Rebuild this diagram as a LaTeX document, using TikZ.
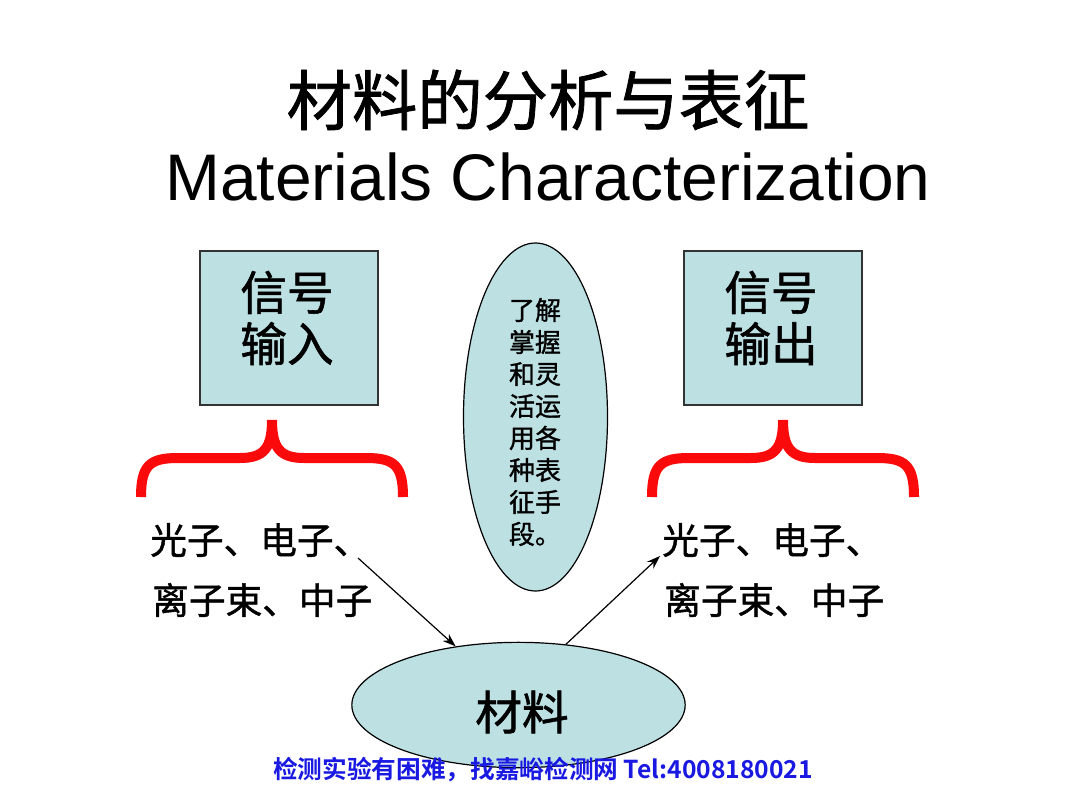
\documentclass[tikz,border=0pt]{standalone}
\usepackage{fontspec}
\setmainfont{Liberation Sans}
\newfontfamily\cjk{Noto Sans CJK SC}
\newfontfamily\cjkf[FakeBold=1.2]{Noto Sans CJK SC}
\newfontfamily\cjkb{Noto Sans CJK SC Bold}
\newfontfamily\latin{Liberation Sans}
\usetikzlibrary{shapes.geometric,arrows.meta}
\definecolor{boxfill}{RGB}{189,224,227}
\definecolor{bracered}{RGB}{250,10,10}
\definecolor{footblue}{RGB}{25,25,225}
\tikzset{
  sigbox/.style={draw=black!80, line width=1.1pt, fill=boxfill, minimum width=133.5pt, minimum height=115.5pt, inner sep=0pt},
  boxtext/.style={inner sep=0pt, align=center, font=\cjkf\fontsize{35}{38.5}\selectfont},
  oval/.style={ellipse, draw=black, line width=0.9pt, fill=boxfill, inner sep=0pt},
  bracepath/.style={draw=bracered, line width=7.5pt, line cap=butt},
  sidetext/.style={anchor=west, inner sep=0pt, font=\cjkf\fontsize{27.5}{30}\selectfont},
  arr/.style={draw=black, line width=0.9pt, -{Stealth[length=10pt,width=7pt]}}
}
\begin{document}
\begin{tikzpicture}[x=0.75pt,y=-0.75pt]
\useasboundingbox (0,0) rectangle (1080,810);
\fill[white] (0,0) rectangle (1080,810);
% titles
\node[font=\cjkf\fontsize{49}{52}\selectfont, inner sep=0pt] (title) at (548,100) {材料的分析与表征};
\node[font=\latin\fontsize{49.4}{52}\selectfont, inner sep=0pt] (subtitle) at (548,177) {Materials Characterization};
% boxes
\node[sigbox] (in) at (289,328) {};
\node[boxtext] (intext) at (287,318) {信号\\输入};
\node[sigbox] (out) at (773,328) {};
\node[boxtext] (outtext) at (771,318) {信号\\输出};
% middle ellipse
\node[oval, minimum width=108pt, minimum height=261pt] (tip) at (535.5,417) {};
\node[inner sep=0pt, align=left, font=\cjkf\fontsize{19.5}{24}\selectfont] (tiptext) at (535,422) {了解\\掌握\\和灵\\活运\\用各\\种表\\征手\\段。};
% braces
\path[bracepath] (141,497) .. controls (141,465) and (150,458) .. (178,458) -- (240,458) .. controls (264,458) and (272,448) .. (272,420) .. controls (272,448) and (280,458) .. (304,458) -- (366,458) .. controls (394,458) and (403,465) .. (403,497);
\path[bracepath] (652,497) .. controls (652,465) and (661,458) .. (689,458) -- (751,458) .. controls (775,458) and (783,448) .. (783,420) .. controls (783,448) and (791,458) .. (815,458) -- (877,458) .. controls (905,458) and (914,465) .. (914,497);
% side texts
\node[sidetext] (l1) at (150,540) {光子、电子、};
\node[sidetext] (l2) at (152,600) {离子束、中子};
\node[sidetext] (r1) at (662,540) {光子、电子、};
\node[sidetext] (r2) at (664,600) {离子束、中子};
% material ellipse
\node[oval, minimum width=250pt, minimum height=94pt] (mat) at (518.5,705) {};
\node[inner sep=0pt, font=\cjkf\fontsize{35}{38}\selectfont] (mattext) at (522,712) {材料};
% arrows
\coordinate (ls) at (358,558);
\coordinate (re) at (660,556);
\draw[arr] (ls) -- (mat.137);
\draw[arr] (mat.52) -- (re);
% footer
\node[font=\cjkb\fontsize{18.5}{20}\selectfont, text=footblue, inner sep=0pt] (foot) at (543,770) {检测实验有困难，找嘉峪检测网 Tel:4008180021};
\end{tikzpicture}
\end{document}
